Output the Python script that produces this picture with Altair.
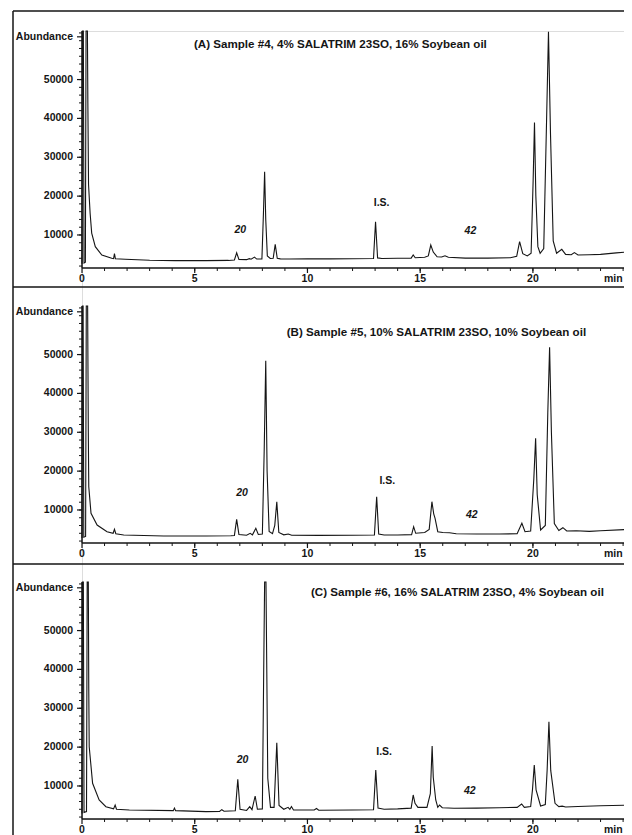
import altair as alt
import pandas as pd

# ---------------- data ----------------
# Panel A: Sample #4
tA = [0.00, 0.02, 0.06, 0.09, 0.15, 0.18, 0.24, 0.26, 0.29, 0.36, 0.43, 0.59, 0.88, 1.32, 1.40, 1.44, 1.48,
      1.92, 3.00, 4.13, 5.50, 6.50, 6.76, 6.86, 6.96, 7.30, 7.42, 7.50, 7.65, 7.75, 7.98, 8.05, 8.10, 8.15,
      8.22, 8.35, 8.48, 8.57, 8.66, 8.80, 9.20, 10.0, 11.0, 12.0, 12.93, 13.02, 13.11, 13.30, 14.00, 14.60,
      14.69, 14.78, 15.20, 15.36, 15.47, 15.58, 15.75, 15.95, 16.10, 16.25, 17.00, 18.00, 19.00, 19.28,
      19.41, 19.55, 19.75, 19.92, 20.01, 20.07, 20.13, 20.22, 20.32, 20.48, 20.60, 20.69, 20.78, 20.90,
      21.05, 21.28, 21.45, 21.70, 21.84, 22.00, 22.50, 23.00, 23.70, 24.39]
vA = [2600, 62500, 62500, 2800, 3000, 62500, 62500, 44000, 23000, 15600, 10500, 7000, 4850, 4000, 3900, 5200, 3900,
      3750, 3500, 3400, 3400, 3450, 3550, 5400, 3700, 3650, 3900, 3750, 4300, 3800, 3850, 16000, 26300, 14000,
      4600, 3950, 4000, 7600, 4000, 3850, 3800, 3850, 3850, 3900, 3950, 13400, 4100, 3950, 4000, 4050,
      4850, 4150, 4250, 4600, 7400, 5600, 4400, 4350, 4650, 4250, 4050, 4050, 4150, 4500,
      8300, 5200, 4600, 5300, 24000, 38950, 20000, 7000, 5300, 6500, 38000, 62300, 36000, 8500,
      5300, 6300, 5000, 4900, 5450, 4850, 4900, 5000, 5400, 5700]

# Panel B: Sample #5
tB = [0.00, 0.02, 0.05, 0.08, 0.16, 0.19, 0.25, 0.28, 0.30, 0.40, 0.67, 1.11, 1.38, 1.44, 1.50, 1.85, 3.63,
      5.50, 6.60, 6.76, 6.86, 6.96, 7.30, 7.46, 7.56, 7.71, 7.82, 8.00, 8.08, 8.15, 8.21, 8.30, 8.45, 8.55,
      8.64, 8.73, 8.95, 9.15, 9.30, 10.5, 12.0, 12.97, 13.07, 13.16, 13.40, 14.00, 14.62, 14.71, 14.80,
      15.20, 15.40, 15.52, 15.60, 15.66, 15.78, 16.00, 16.30, 16.60, 17.50, 18.50, 19.30, 19.51, 19.65,
      19.90, 20.04, 20.12, 20.19, 20.34, 20.55, 20.66, 20.74, 20.82, 20.95, 21.15, 21.33, 21.50, 21.92,
      22.50, 23.00, 24.39]
vB = [2800, 62500, 62500, 3000, 3200, 62500, 62500, 30000, 16000, 9150, 6130, 4410, 4000, 5030, 3900, 3560, 3300,
      3300, 3350, 3450, 7600, 3700, 3500, 4000, 3600, 5280, 3700, 3800, 25000, 48400, 20000, 4500, 3900, 6000,
      12130, 4200, 3600, 3820, 3500, 3450, 3500, 3550, 13420, 3800, 3550, 3560, 3650, 5700, 4000,
      4200, 5000, 12130, 9000, 7860, 4410, 4200, 4150, 3900, 3800, 3800, 3900, 6570, 4400,
      4600, 18000, 28450, 14000, 4850, 6000, 35000, 51870, 30000, 6500, 4700, 5440, 4600, 4670,
      4500, 4670, 5030]

# Panel C: Sample #6
tC = [0.00, 0.02, 0.06, 0.09, 0.20, 0.23, 0.28, 0.30, 0.32, 0.47, 0.76, 1.06, 1.40, 1.47, 1.53, 2.10, 4.05,
      4.10, 4.15, 5.50, 6.10, 6.20, 6.30, 6.80, 6.91, 7.01, 7.30, 7.44, 7.54, 7.68, 7.78, 8.00, 8.06, 8.10,
      8.16, 8.24, 8.36, 8.52, 8.64, 8.74, 8.95, 9.14, 9.22, 9.29, 9.38, 10.30, 10.40, 10.50, 12.00, 12.93,
      13.03, 13.13, 13.40, 14.00, 14.60, 14.69, 14.77, 14.90, 15.30, 15.45, 15.53, 15.58, 15.69, 15.78,
      15.86, 15.98, 16.50, 17.50, 18.50, 19.30, 19.50, 19.62, 19.90, 19.98, 20.06, 20.14, 20.34, 20.55,
      20.63, 20.71, 20.79, 20.98, 21.15, 21.30, 21.45, 22.00, 23.00, 24.39]
vC = [2900, 62500, 62500, 3200, 3400, 62500, 62500, 35000, 20100, 10690, 6390, 4670, 4100, 5100, 4000, 3820, 3650,
      4300, 3650, 3400, 3450, 3900, 3500, 3600, 11720, 4000, 3700, 4670, 3900, 7420, 4000, 4100, 40000, 62500,
      62500, 12000, 4500, 4500, 21140, 5000, 4000, 4510, 4000, 4700, 3800, 3800, 4200, 3750, 3800, 3900,
      14110, 4300, 4000, 4100, 4300, 7680, 5540, 4500, 4500, 8000, 20290, 12230, 6390, 4500,
      5100, 4400, 4250, 4300, 4400, 4500, 5360, 4500, 4700, 9000, 15400, 9000, 4850, 5200,
      14000, 26540, 14000, 5540, 4700, 4800, 4600, 4700, 4900, 5100]

TITLES = ["(A) Sample #4, 4% SALATRIM 23SO, 16% Soybean oil",
          "(B) Sample #5, 10% SALATRIM 23SO, 10% Soybean oil",
          "(C) Sample #6, 16% SALATRIM 23SO, 4% Soybean oil"]
TITLE_T = [11.46, 15.72, 16.65]
TITLE_V = [59000, 55550, 59670]

PEAK_TXT = ["20", "42"]
PEAK_T = [[7.02, 17.23], [7.10, 17.29], [7.12, 17.20]]
PEAK_V = [[11300, 11050], [14450, 8700], [16690, 8780]]
IS_T = [13.29, 13.54, 13.40]
IS_V = [18350, 17460, 18820]

X_TICKS = [0, 5, 10, 15, 20]
X_LABELS = ["0", "5", "10", "15", "20"]
X_UNIT_T = [23.15]
X_MINOR = list(range(1, 25))
Y_TICKS = [10000, 20000, 30000, 40000, 50000, 61000]
Y_LABELS = ["10000", "20000", "30000", "40000", "50000", "Abundance"]
Y_MINOR = list(range(2000, 62001, 2000))

XDOM = [0, 24.04]
YDOM = [1500, 62500]
W, H = 542, 788
BANDS = [[237, 0], [512, 275], [788, 551]]

INK = "#151515"
FONT = "Liberation Sans"


def panel(i, t, v):
    bottom = BANDS[i][0]
    xs = alt.Scale(domain=XDOM, nice=False, zero=False)
    ys = alt.Scale(domain=YDOM, range=BANDS[i], nice=False, zero=False, clamp=True)
    X = lambda f: alt.X(f, scale=xs, axis=None)
    Y = lambda f: alt.Y(f, scale=ys, axis=None)

    df = pd.DataFrame({"t": t, "v": v, "i": list(range(len(t)))})
    line = alt.Chart(df).mark_line(color=INK, strokeWidth=1.1).encode(
        x=X("t:Q"), y=Y("v:Q"), order=alt.Order("i:Q"))

    # y axis
    yline = alt.Chart(pd.DataFrame({"v": [YDOM[0]], "v2": [YDOM[1]]})).mark_rule(
        color=INK, strokeWidth=1.5).encode(x=alt.value(0), y=Y("v:Q"), y2="v2:Q")
    ymajor = alt.Chart(pd.DataFrame({"v": Y_TICKS})).mark_rule(color=INK, strokeWidth=1.2).encode(
        x=alt.value(-5), x2=alt.value(0), y=Y("v:Q"))
    yminor = alt.Chart(pd.DataFrame({"v": Y_MINOR})).mark_rule(color=INK, strokeWidth=1).encode(
        x=alt.value(-3), x2=alt.value(0), y=Y("v:Q"))
    ylab = alt.Chart(pd.DataFrame({"v": Y_TICKS, "s": Y_LABELS})).mark_text(
        font=FONT, fontSize=10.5, fontWeight="bold", color=INK, align="right", baseline="middle").encode(
        x=alt.value(-9), y=Y("v:Q"), text="s:N")

    # x axis
    xline = alt.Chart(pd.DataFrame({"t": [XDOM[0]], "t2": [XDOM[1]]})).mark_rule(
        color=INK, strokeWidth=1.6).encode(x=X("t:Q"), x2="t2:Q", y=alt.value(bottom))
    xmajor = alt.Chart(pd.DataFrame({"t": X_TICKS})).mark_rule(color=INK, strokeWidth=1.2).encode(
        x=X("t:Q"), y=alt.value(bottom), y2=alt.value(bottom + 5))
    xminor = alt.Chart(pd.DataFrame({"t": X_MINOR})).mark_rule(color=INK, strokeWidth=1).encode(
        x=X("t:Q"), y=alt.value(bottom), y2=alt.value(bottom + 3))
    xlab = alt.Chart(pd.DataFrame({"t": X_TICKS, "s": X_LABELS})).mark_text(
        font=FONT, fontSize=10.5, fontWeight="bold", color=INK, align="center", baseline="top").encode(
        x=X("t:Q"), y=alt.value(bottom + 6), text="s:N")
    xunit = alt.Chart(pd.DataFrame({"t": X_UNIT_T, "s": ["min"]})).mark_text(
        font=FONT, fontSize=10.5, fontWeight="bold", color=INK, align="left", baseline="top").encode(
        x=X("t:Q"), y=alt.value(bottom + 6), text="s:N")

    # annotations
    title = alt.Chart(pd.DataFrame({"s": [TITLES[i]], "t": [TITLE_T[i]], "v": [TITLE_V[i]]})).mark_text(
        font=FONT, fontSize=11.6, fontWeight="bold", color=INK, align="center", baseline="middle").encode(
        x=X("t:Q"), y=Y("v:Q"), text="s:N")
    peaks = alt.Chart(pd.DataFrame({"s": PEAK_TXT, "t": PEAK_T[i], "v": PEAK_V[i]})).mark_text(
        font=FONT, fontSize=10.5, fontWeight="bold", fontStyle="italic", color=INK, align="center",
        baseline="middle").encode(x=X("t:Q"), y=Y("v:Q"), text="s:N")
    istd = alt.Chart(pd.DataFrame({"s": ["I.S."], "t": [IS_T[i]], "v": [IS_V[i]]})).mark_text(
        font=FONT, fontSize=10.5, fontWeight="bold", color=INK, align="center", baseline="middle").encode(
        x=X("t:Q"), y=Y("v:Q"), text="s:N")
    return alt.layer(line, yline, ymajor, yminor, ylab, xline, xmajor, xminor, xlab, xunit,
                     title, peaks, istd)


pA = panel(0, tA, vA)
pB = panel(1, tB, vB)
pC = panel(2, tC, vC)

frame_df = pd.DataFrame({"k": [0]})
frames = [
    alt.Chart(frame_df).mark_rule(color=INK, strokeWidth=1.5).encode(
        x=alt.value(-69), x2=alt.value(W + 20), y=alt.value(yy))
    for yy in (-20, 256, 533)
] + [
    alt.Chart(frame_df).mark_rule(color=INK, strokeWidth=1.5).encode(
        x=alt.value(-69), y=alt.value(-20), y2=alt.value(H + 40))
]

chart = alt.layer(pA, pB, pC, *frames).resolve_scale(x="independent", y="independent").properties(
    width=W, height=H,
    autosize=alt.AutoSizeParams(type="none"),
    padding={"left": 74, "top": 23, "right": 0, "bottom": 16},
).configure_view(stroke=None).configure(font=FONT, background="white")

chart.save("out.html", embed_options={"renderer": "svg", "actions": False})
